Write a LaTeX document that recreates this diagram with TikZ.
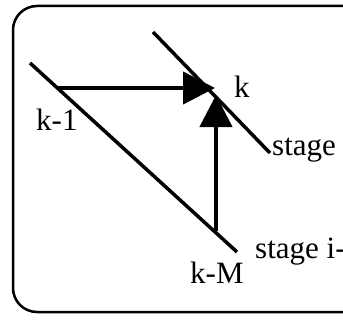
\documentclass[tikz,border=0pt]{standalone}
\usepackage{fontspec}
\setmainfont{Liberation Serif}
\usetikzlibrary{arrows.meta}

\begin{document}
\begin{tikzpicture}[x=1pt,y=-1pt,
    stageline/.style={line width=3.5pt},
    deparrow/.style={line width=4.5pt,-{Triangle[length=32pt,width=32pt]}},
    lbl/.style={inner sep=0pt,font=\fontsize{31}{34}\selectfont}]
  \useasboundingbox (0,0) rectangle (343,321);
  % frame (cut off at the right)
  \draw[line width=2.5pt,rounded corners=24pt] (13,6) rectangle (390,312);
  % stage lines
  \coordinate (lowtop) at (30,63);
  \coordinate (lowend) at (237,252);
  \coordinate (uptop) at (153,32);
  \coordinate (upend) at (270,153);
  \draw[stageline] (lowtop) -- (lowend);
  \draw[stageline] (uptop) -- (upend);
  % dependences
  \coordinate (km1) at (58,88);
  \coordinate (kmM) at (216,231);
  \coordinate (kin1) at (215,88);
  \coordinate (kin2) at (216,95);
  \draw[deparrow] (km1) -- (kin1);
  \draw[deparrow] (kmM) -- (kin2);
  % labels
  \node[lbl,anchor=base west] (lk) at (234,98) {k};
  \node[lbl,anchor=base west] (lk1) at (36,130) {k-1};
  \node[lbl,anchor=base west] (lkM) at (190,283) {k-M};
  \node[lbl,anchor=base west] (lstage) at (272,155) {stage};
  \node[lbl,anchor=base west] (lstage1) at (255,258) {stage i-};
\end{tikzpicture}
\end{document}
